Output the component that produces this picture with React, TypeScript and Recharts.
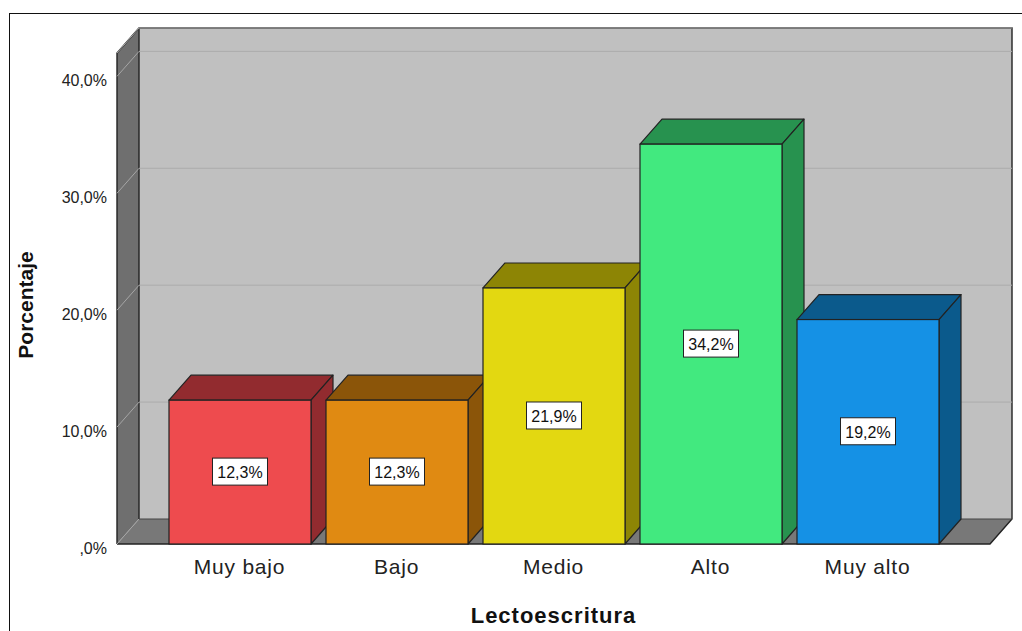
import React from 'react';
import { BarChart, Bar, XAxis, YAxis, CartesianGrid, ReferenceArea, LabelList } from 'recharts';

// Lectoescritura levels and their share of respondents (%)
const categories = ['Muy bajo', 'Bajo', 'Medio', 'Alto', 'Muy alto'];
const percentages = [12.3, 12.3, 21.9, 34.2, 19.2];
const frontColors = ['#EE4B4E', '#E08A12', '#E3D811', '#42E97F', '#1591E5'];
const shadeColors = ['#922B2F', '#8B5509', '#8D8505', '#27924F', '#0B5A8C'];
const yTicks = [0, 10, 20, 30, 40];
const yTickLabels = [',0%', '10,0%', '20,0%', '30,0%', '40,0%'];

const data = categories.map((name, i) => ({
  name,
  value: percentages[i],
  front: frontColors[i],
  shade: shadeColors[i],
}));

const W = 1022;
const H = 631;
const MARGIN = { top: 53, right: 32, bottom: 47, left: 0 };
const X_AXIS_H = 40;
const Y_AXIS_W = 117;
const X_PAD = 44;
const PLOT_BOTTOM = H - MARGIN.bottom - X_AXIS_H;

// depth offset of the 3D box
const DX = 22;
const DY = 25;
const FONT = '"Liberation Sans", Arial, Helvetica, sans-serif';
const EDGE = '#222';

const fmt = (v: number) => v.toFixed(1).replace('.', ',') + '%';

// back wall, left wall and floor; the area spans the category range,
// so the axis padding is added back on both sides
const Walls = (p: any) => {
  const { x, y, width, height } = p;
  const l = x - X_PAD;
  const r = x + width + X_PAD;
  const t = y;
  const b = y + height;
  const w = r - l;
  return (
    <g>
      <rect x={l + DX} y={t - DY} width={w} height={height} fill="#C0C0C0" />
      <polygon points={`${l},${t} ${l + DX},${t - DY} ${l + DX},${b - DY} ${l},${b}`} fill="#6F6F6F" />
      <polygon points={`${l},${b} ${l + DX},${b - DY} ${r + DX},${b - DY} ${r},${b}`} fill="#787878" />
      <polyline
        points={`${l},${b} ${l},${t} ${l + DX},${t - DY} ${r + DX},${t - DY} ${r + DX},${b - DY} ${r},${b} ${l},${b}`}
        fill="none"
        stroke={EDGE}
        strokeWidth={1.4}
      />
      <line x1={l + DX} y1={t - DY} x2={l + DX} y2={b - DY} stroke={EDGE} strokeWidth={1.4} />
    </g>
  );
};

const GridLine = (p: any) => {
  const { x1, x2, y1 } = p;
  const isFloor = Math.abs(y1 - PLOT_BOTTOM) < 1;
  return (
    <g key={p.key}>
      <line x1={x1} y1={y1} x2={x1 + DX} y2={y1 - DY} stroke="#A6A6A6" strokeWidth={1} />
      <line
        x1={x1 + DX}
        y1={y1 - DY}
        x2={x2 + DX}
        y2={y1 - DY}
        stroke={isFloor ? '#444' : '#ABABAB'}
        strokeWidth={isFloor ? 1.2 : 1}
      />
    </g>
  );
};

const Bar3D = (p: any) => {
  const { x, y, width, height, payload } = p;
  const r = x + width;
  const b = y + height;
  return (
    <g>
      <polygon
        points={`${x},${y} ${x + DX},${y - DY} ${r + DX},${y - DY} ${r},${y}`}
        fill={payload.shade}
        stroke={EDGE}
        strokeWidth={1.2}
        strokeLinejoin="round"
      />
      <polygon
        points={`${r},${y} ${r + DX},${y - DY} ${r + DX},${b - DY} ${r},${b}`}
        fill={payload.shade}
        stroke={EDGE}
        strokeWidth={1.2}
        strokeLinejoin="round"
      />
      <rect x={x} y={y} width={width} height={height} fill={payload.front} stroke={EDGE} strokeWidth={1.2} />
    </g>
  );
};

const ValueBox = (p: any) => {
  const { x, y, width, height, value } = p;
  const cx = x + width / 2;
  const cy = y + height / 2;
  return (
    <g>
      <rect x={cx - 27.5} y={cy - 14} width={55} height={27} fill="#fff" stroke={EDGE} strokeWidth={1} />
      <text x={cx} y={cy + 6} textAnchor="middle" fontSize={16} fontFamily={FONT} fill="#111">
        {fmt(value)}
      </text>
    </g>
  );
};

const YTick = (p: any) => {
  const { x, y, payload } = p;
  const idx = yTicks.indexOf(payload.value);
  return (
    <text x={x - 10} y={y + 10} textAnchor="end" fontSize={16} fontFamily={FONT} fill="#222">
      {yTickLabels[idx]}
    </text>
  );
};

const XTick = (p: any) => {
  const { x, y, payload } = p;
  return (
    <text x={x} y={y + 30} textAnchor="middle" fontSize={21} letterSpacing={0.8} fontFamily={FONT} fill="#222">
      {payload.value}
    </text>
  );
};

const XTitle = (p: any) => {
  const vb = p.viewBox || {};
  const cx = vb.x + vb.width / 2;
  return (
    <text x={cx} y={vb.y + 79} textAnchor="middle" fontSize={22} fontWeight="bold" letterSpacing={1} fontFamily={FONT} fill="#111">
      Lectoescritura
    </text>
  );
};

const YTitle = () => (
  <text
    x={33}
    y={305}
    transform="rotate(-90, 33, 305)"
    textAnchor="middle"
    fontSize={21}
    fontWeight="bold"
    fontFamily={FONT}
    fill="#111"
  >
    Porcentaje
  </text>
);

export default function App() {
  return (
    <div style={{ position: 'absolute', left: 0, top: 0, width: W, height: H, background: '#fff', overflow: 'hidden' }}>
      <div
        style={{
          position: 'absolute',
          left: 9,
          top: 13,
          width: W - 9,
          height: H - 13,
          borderTop: '1px solid #111',
          borderLeft: '1px solid #111',
        }}
      />
      <div style={{ position: 'absolute', left: 0, top: 0 }}>
        <BarChart width={W} height={H} data={data} margin={MARGIN} barSize={142}>
          <ReferenceArea y1={0} y2={42} shape={<Walls />} zIndex={-200} ifOverflow="visible" />
          <CartesianGrid vertical={false} horizontal={GridLine as any} />
          <XAxis
            dataKey="name"
            height={X_AXIS_H}
            padding={{ left: X_PAD, right: X_PAD }}
            axisLine={false}
            tickLine={false}
            tickSize={0}
            tickMargin={0}
            tick={<XTick />}
            interval={0}
            label={<XTitle />}
          />
          <YAxis
            width={Y_AXIS_W}
            domain={[0, 42]}
            ticks={yTicks}
            axisLine={false}
            tickLine={false}
            tickSize={0}
            tickMargin={0}
            tick={<YTick />}
            label={<YTitle />}
          />
          <Bar dataKey="value" shape={<Bar3D />} isAnimationActive={false}>
            <LabelList dataKey="value" content={<ValueBox />} />
          </Bar>
        </BarChart>
      </div>
    </div>
  );
}
